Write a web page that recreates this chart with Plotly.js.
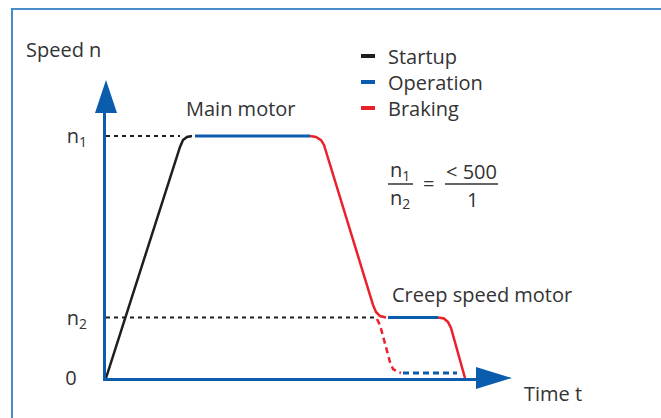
<!DOCTYPE html>
<html>
<head>
<meta charset="utf-8">
<script src="https://cdn.plot.ly/plotly-3.0.1.min.js"></script>
<style>html,body{margin:0;padding:0;background:#fff;}#chart{width:661px;height:418px;}</style>
</head>
<body>
<div id="chart"></div>
<script>
// ---- Data (time units, speed units: n1 = 100, n2 = 25) ----
const N1 = 100;
const N2 = 25;
const tickVals = [0, N2, N1];
const tickText = ['0&nbsp;&nbsp;', 'n<sub>2</sub>', 'n<sub>1</sub>'];

const startupT = [0, 74, 77, 81, 86];
const startupN = [0, 95.5, 98.3, 99.6, 100];

const mainOpT = [89, 204];
const mainOpN = [100, 100];

const mainBrakeT = [204, 210, 215, 218, 267, 270, 274, 280];
const mainBrakeN = [100, 99.6, 98.3, 96.3, 30.2, 27.3, 25.6, 25];

const creepOpT = [282, 332];
const creepOpN = [25, 25];

const creepBrakeT = [332, 338, 342, 345, 359];
const creepBrakeN = [25, 24.6, 23.1, 20.7, 0];

const altBrakeT = [271, 274, 284, 287, 292, 295];
const altBrakeN = [24.4, 21.9, 6.6, 3.7, 2.5, 2.1];

const altOpT = [297, 351];
const altOpN = [2.1, 2.1];

const refN1T = [0, 74];
const refN1N = [N1, N1];
const refN2T = [0, 272];
const refN2N = [N2, N2];

const legendNames = ['Startup', 'Operation', 'Braking'];

// ---- Styles ----
const BLACK = '#1e1e1e', BLUE = '#0b5cad', RED = '#e8212b', TXT = '#333333', FRAME = '#4a8cc9';
const FONT = 'Open Sans, DejaVu Sans, sans-serif';
const FS = 20;
const legendColors = [BLACK, BLUE, RED];
const legendKeys = ['legend', 'legend2', 'legend3'];
const legendRowY = [56, 82, 108];

// pixel -> paper helpers (layout only)
const L = 106, R = 476, T = 113, B = 378;
const px = x => (x - L) / (R - L);
const py = y => (B - y) / (B - T);

function ln(t, n, color, width, dash) {
  return {x: t, y: n, type: 'scatter', mode: 'lines', showlegend: false, hoverinfo: 'skip',
    line: {color: color, width: width, dash: dash || 'solid'}};
}

const traces = [
  ln(refN1T, refN1N, BLACK, 2, '4px,4px'),
  ln(refN2T, refN2N, BLACK, 2, '4px,4px'),
  ln(startupT, startupN, BLACK, 2.5),
  ln(mainOpT, mainOpN, BLUE, 3),
  ln(mainBrakeT, mainBrakeN, RED, 2.5),
  ln(creepOpT, creepOpN, BLUE, 3),
  ln(creepBrakeT, creepBrakeN, RED, 2.5),
  ln(altBrakeT, altBrakeN, RED, 2.5, '6px,4px'),
  ln(altOpT, altOpN, BLUE, 3, '6px,4px')
];
legendNames.forEach((nm, i) => {
  traces.push({x: [null], y: [null], type: 'scatter', mode: 'markers', name: nm, legend: legendKeys[i],
    marker: {symbol: 'line-ew', size: 10, color: legendColors[i], line: {color: legendColors[i], width: 4}}});
});

function ann(text, x, y, xanchor) {
  return {text: text, x: px(x), y: py(y), xref: 'paper', yref: 'paper', showarrow: false,
    xanchor: xanchor || 'center', yanchor: 'middle', font: {family: FONT, size: FS, color: TXT}};
}

const layout = {
  width: 661, height: 418,
  margin: {l: L, r: 661 - R, t: T, b: 418 - B, pad: 0},
  paper_bgcolor: '#ffffff', plot_bgcolor: '#ffffff',
  font: {family: FONT, size: FS, color: TXT},
  xaxis: {range: [0, R - L], showgrid: false, zeroline: false, showticklabels: false,
    showline: true, linecolor: BLUE, linewidth: 3, ticks: '', fixedrange: true},
  yaxis: {range: [0, (B - T) / 2.42], showgrid: false, zeroline: false,
    tickvals: tickVals, ticktext: tickText, ticks: 'outside', ticklen: 0, ticklabelstandoff: 12,
    tickfont: {family: FONT, size: FS, color: TXT},
    showline: true, linecolor: BLUE, linewidth: 3, fixedrange: true},
  showlegend: true,
  annotations: [
    ann('Speed n', 24, 49, 'left'),
    ann('Main motor', 241, 108),
    ann('Creep speed motor', 390, 294, 'left'),
    ann('Time t', 522, 393, 'left'),
    ann('n<sub>1</sub>', 400, 170),
    ann('n<sub>2</sub>', 400, 198),
    ann('=', 428, 183),
    ann('&lt; 500', 471, 171),
    ann('1', 472, 199)
  ],
  shapes: [
    {type: 'line', xref: 'paper', yref: 'paper', x0: px(11), x1: px(661), y0: py(9), y1: py(9), line: {color: FRAME, width: 2}},
    {type: 'line', xref: 'paper', yref: 'paper', x0: px(12), x1: px(12), y0: py(9), y1: py(418), line: {color: FRAME, width: 2}},
    {type: 'path', xref: 'paper', yref: 'paper', fillcolor: BLUE, line: {width: 0},
      path: `M ${px(95)} ${py(113)} L ${px(117)} ${py(113)} L ${px(106)} ${py(80)} Z`},
    {type: 'path', xref: 'paper', yref: 'paper', fillcolor: BLUE, line: {width: 0},
      path: `M ${px(476)} ${py(367)} L ${px(476)} ${py(389)} L ${px(512)} ${py(378)} Z`},
    {type: 'line', xref: 'paper', yref: 'paper', x0: px(388), x1: px(413), y0: py(184), y1: py(184), line: {color: TXT, width: 1.5}},
    {type: 'line', xref: 'paper', yref: 'paper', x0: px(445), x1: px(498), y0: py(184), y1: py(184), line: {color: TXT, width: 1.5}}
  ]
};
legendKeys.forEach((k, i) => {
  layout[k] = {x: px(348), y: py(legendRowY[i]), xanchor: 'left', yanchor: 'middle',
    bgcolor: 'rgba(0,0,0,0)', font: {family: FONT, size: FS, color: TXT}};
});

Plotly.newPlot('chart', traces, layout, {displayModeBar: false, staticPlot: true});
</script>
</body>
</html>
